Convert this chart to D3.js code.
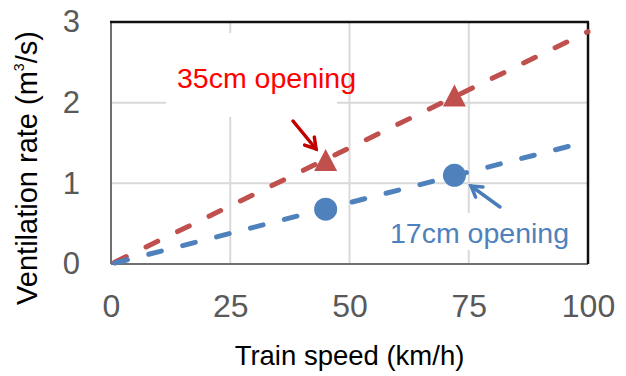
<!DOCTYPE html>
<html>
<head>
<meta charset="utf-8">
<script src="https://cdn.jsdelivr.net/npm/d3@7"></script>
<style>
  body { margin: 0; background: #fff; }
  svg { display: block; font-family: Arial, "Liberation Sans", sans-serif; }
</style>
</head>
<body>
<div id="chart"></div>
<script>
// measured points
var speeds = [45, 72];
var rate35 = [1.29, 2.09];
var rate17 = [0.68, 1.1];

// linear trend lines (start / end)
var trendSpeeds = [0, 100];
var trend35 = [0, 2.88];
var trend17 = [0, 1.52];

var xTicks = [0, 25, 50, 75, 100];
var yTicks = [0, 1, 2, 3];

var W = 626, H = 376;
var margin = { top: 22, right: 38, bottom: 112, left: 111 };

var red = '#c0504d', blue = '#4f81bd';

var svg = d3.select('#chart').append('svg')
  .attr('width', W)
  .attr('height', H);

var x = d3.scaleLinear().domain([0, 100]).range([margin.left, W - margin.right]);
var y = d3.scaleLinear().domain([0, 3]).range([H - margin.bottom, margin.top]);

// gridlines
svg.append('g').selectAll('line')
  .data(xTicks.slice(1, -1)).enter()
  .append('line')
  .attr('x1', function(d) { return x(d); })
  .attr('x2', function(d) { return x(d); })
  .attr('y1', y(0)).attr('y2', y(3))
  .attr('stroke', '#d9d9d9').attr('stroke-width', 2);

svg.append('g').selectAll('line')
  .data(yTicks.slice(1, -1)).enter()
  .append('line')
  .attr('x1', x(0)).attr('x2', x(100))
  .attr('y1', function(d) { return y(d); })
  .attr('y2', function(d) { return y(d); })
  .attr('stroke', '#d9d9d9').attr('stroke-width', 2);

// white boxes behind the labels hide the grid
svg.append('rect').attr('x', 166).attr('y', 33).attr('width', 171).attr('height', 84).attr('fill', '#fff');
svg.append('rect').attr('x', 400).attr('y', 213).attr('width', 174).attr('height', 37).attr('fill', '#fff');

// frame: grey left/bottom, black top/right
svg.append('line').attr('x1', x(0)).attr('x2', x(0)).attr('y1', y(0)).attr('y2', y(3))
  .attr('stroke', '#707070').attr('stroke-width', 2);
svg.append('line').attr('x1', x(0)).attr('x2', x(100)).attr('y1', y(0)).attr('y2', y(0))
  .attr('stroke', '#707070').attr('stroke-width', 2);
svg.append('line').attr('x1', x(0) - 1).attr('x2', x(100) + 1).attr('y1', y(3)).attr('y2', y(3))
  .attr('stroke', '#111').attr('stroke-width', 2.5);
svg.append('line').attr('x1', x(100)).attr('x2', x(100)).attr('y1', y(3)).attr('y2', y(0))
  .attr('stroke', '#111').attr('stroke-width', 2.5);

// axes (labels only)
var xAxis = d3.axisBottom(x).tickValues(xTicks).tickFormat(d3.format('d')).tickSize(0).tickPadding(0);
var gx = svg.append('g').attr('transform', 'translate(0,' + (y(0) + 30) + ')').call(xAxis);
gx.select('.domain').remove();
gx.selectAll('text').attr('fill', '#595959').attr('font-size', 32)
  .attr('font-family', 'Arial, "Liberation Sans", sans-serif').attr('dy', '0.71em')
  .attr('y', 0);

var yAxis = d3.axisLeft(y).tickValues(yTicks).tickFormat(d3.format('d')).tickSize(0).tickPadding(31);
var gy = svg.append('g').attr('transform', 'translate(' + x(0) + ',0)').call(yAxis);
gy.select('.domain').remove();
gy.selectAll('text').attr('fill', '#595959').attr('font-size', 31)
  .attr('font-family', 'Arial, "Liberation Sans", sans-serif');

// axis titles
svg.append('text')
  .attr('x', (x(0) + x(100)) / 2).attr('y', 365)
  .attr('text-anchor', 'middle').attr('font-size', 27.5).attr('fill', '#000')
  .text('Train speed (km/h)');

var yt = svg.append('text')
  .attr('transform', 'translate(37,168) rotate(-90)')
  .attr('text-anchor', 'middle').attr('font-size', 29).attr('fill', '#000');
yt.append('tspan').text('Ventilation rate (m');
yt.append('tspan').attr('font-size', 14).attr('dy', -13).text('3');
yt.append('tspan').attr('dy', 13).text('/s)');

// trend lines
var line = d3.line()
  .x(function(d) { return x(d[0]); })
  .y(function(d) { return y(d[1]); });

svg.append('path')
  .datum(d3.zip(trendSpeeds, trend35))
  .attr('d', line).attr('fill', 'none')
  .attr('stroke', red).attr('stroke-width', 5)
  .attr('stroke-linecap', 'round').attr('stroke-dasharray', '13,22')
  .attr('stroke-dashoffset', -4);

svg.append('path')
  .datum(d3.zip(trendSpeeds, trend17))
  .attr('d', line).attr('fill', 'none')
  .attr('stroke', blue).attr('stroke-width', 5)
  .attr('stroke-linecap', 'round').attr('stroke-dasharray', '13,22')
  .attr('stroke-dashoffset', -4);

// markers
svg.append('g').selectAll('path')
  .data(d3.zip(speeds, rate35)).enter()
  .append('path')
  .attr('d', 'M0,-11L11.5,11L-11.5,11Z')
  .attr('transform', function(d) { return 'translate(' + x(d[0]) + ',' + y(d[1]) + ')'; })
  .attr('fill', red);

svg.append('g').selectAll('circle')
  .data(d3.zip(speeds, rate17)).enter()
  .append('circle')
  .attr('cx', function(d) { return x(d[0]); })
  .attr('cy', function(d) { return y(d[1]); })
  .attr('r', 11.5)
  .attr('fill', blue);

// annotations
svg.append('text')
  .attr('x', 177).attr('y', 88)
  .attr('font-size', 28.5).attr('fill', '#ff0000')
  .text('35cm opening');

svg.append('defs').append('clipPath').attr('id', 'clip17')
  .append('rect').attr('x', 380).attr('y', 205).attr('width', 193).attr('height', 50);
svg.append('text')
  .attr('x', 390).attr('y', 243)
  .attr('font-size', 28.5).attr('fill', blue)
  .attr('clip-path', 'url(#clip17)')
  .text('17cm opening');

function arrow(x1, y1, x2, y2, color) {
  var a = Math.atan2(y2 - y1, x2 - x1), len = 12, spread = 0.55;
  svg.append('line').attr('x1', x1).attr('y1', y1).attr('x2', x2).attr('y2', y2)
    .attr('stroke', color).attr('stroke-width', 3.5).attr('stroke-linecap', 'round');
  svg.append('path')
    .attr('d', 'M' + (x2 - len * Math.cos(a - spread)) + ',' + (y2 - len * Math.sin(a - spread)) +
      'L' + x2 + ',' + y2 +
      'L' + (x2 - len * Math.cos(a + spread)) + ',' + (y2 - len * Math.sin(a + spread)))
    .attr('fill', 'none').attr('stroke', color).attr('stroke-width', 3.5)
    .attr('stroke-linecap', 'round').attr('stroke-linejoin', 'miter');
}
arrow(293, 121, 316, 149, '#c00000');
arrow(500, 207, 471, 186, '#4a7ebb');
</script>
</body>
</html>
